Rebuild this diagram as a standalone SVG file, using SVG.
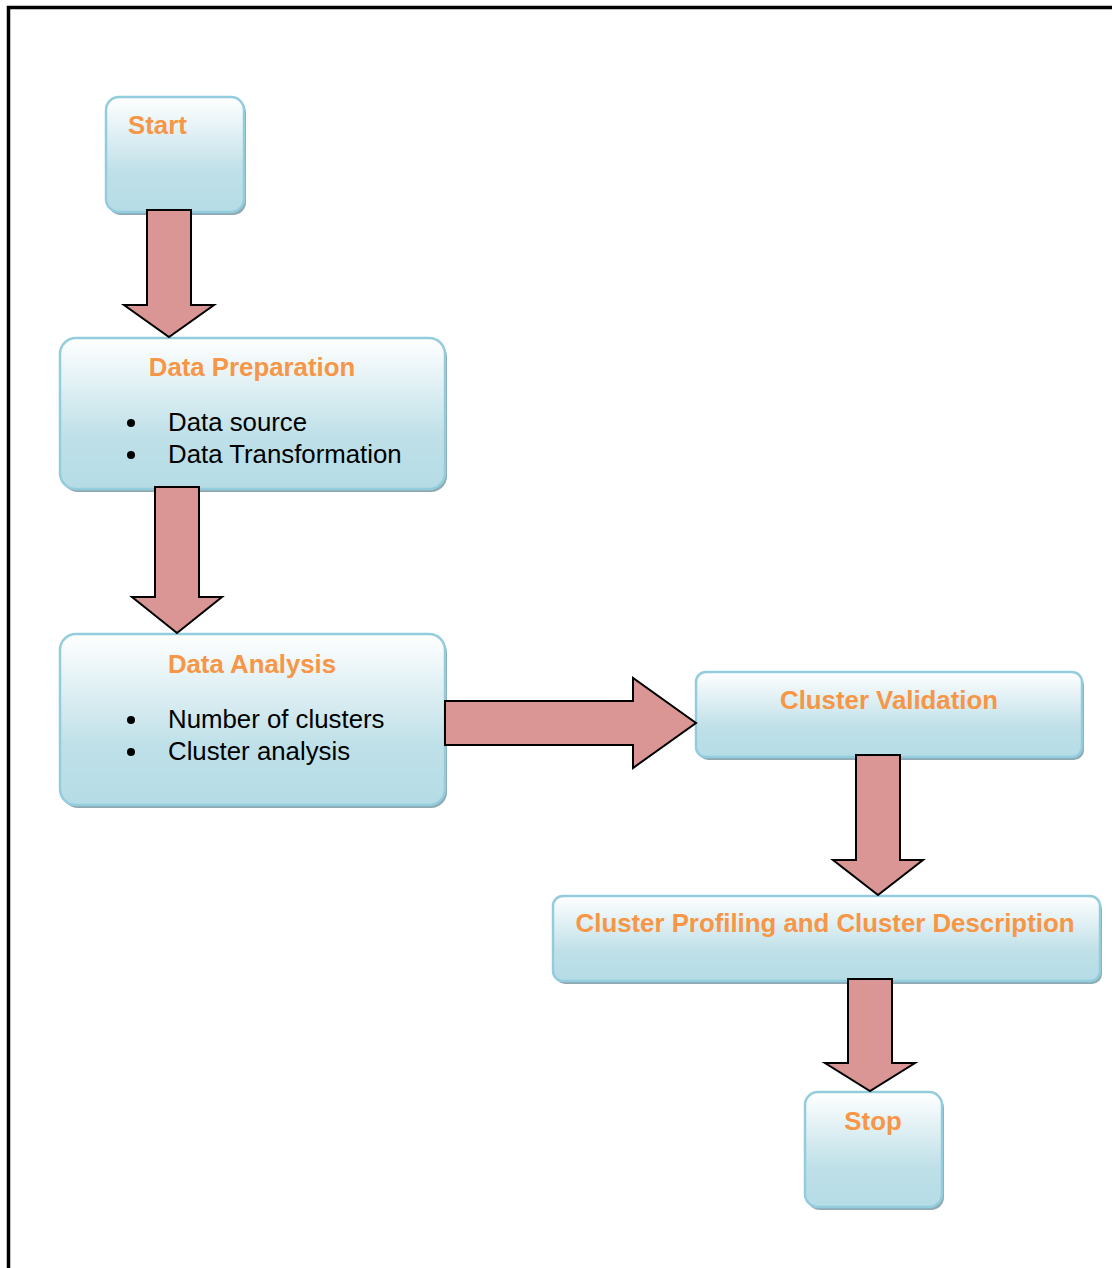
<svg xmlns="http://www.w3.org/2000/svg" width="1112" height="1268" viewBox="0 0 1112 1268">
<style>
.box{fill:url(#g);stroke:#93CDDD;stroke-width:2.5}
.shadow{fill:#8FA9B3}
.title{font-family:"Liberation Sans",Arial,sans-serif;font-weight:bold;font-size:25.8px;fill:#F79646}
.item{font-family:"Liberation Sans",Arial,sans-serif;font-size:25.8px;fill:#000}
.arrow{fill:#D99694;stroke:#000;stroke-width:2;stroke-linejoin:miter}
</style>
<defs>
<linearGradient id="g" x1="0" y1="0" x2="0" y2="1">
<stop offset="0" stop-color="#FFFFFF"/>
<stop offset="0.65" stop-color="#BFE0E8"/>
<stop offset="1" stop-color="#B5DCE6"/>
</linearGradient>
</defs>
<rect width="1112" height="1268" fill="#fff"/>
<path d="M8.5 1268 V7.5 H1112" fill="none" stroke="#000" stroke-width="3.5"/>
<g id="start">
<rect class="shadow" x="108" y="100" width="138" height="115" rx="13"/>
<rect class="box" x="106" y="97" width="138" height="115" rx="13"/>
<text class="title" x="128" y="134">Start</text>
</g>
<g id="prep">
<rect class="shadow" x="62" y="341" width="385" height="151" rx="16"/>
<rect class="box" x="60" y="338" width="385" height="151" rx="16"/>
<text class="title" x="252" y="376" text-anchor="middle">Data Preparation</text>
<circle cx="131" cy="423" r="4"/>
<text class="item" x="168" y="431">Data source</text>
<circle cx="131" cy="455" r="4"/>
<text class="item" x="168" y="463">Data Transformation</text>
</g>
<g id="analysis">
<rect class="shadow" x="62" y="637" width="385" height="171" rx="16"/>
<rect class="box" x="60" y="634" width="385" height="171" rx="16"/>
<text class="title" x="252" y="673" text-anchor="middle">Data Analysis</text>
<circle cx="131" cy="720" r="4"/>
<text class="item" x="168" y="728">Number of clusters</text>
<circle cx="131" cy="752" r="4"/>
<text class="item" x="168" y="760">Cluster analysis</text>
</g>
<g id="validation">
<rect class="shadow" x="698" y="675" width="386" height="85" rx="10"/>
<rect class="box" x="696" y="672" width="386" height="85" rx="10"/>
<text class="title" x="889" y="709" text-anchor="middle">Cluster Validation</text>
</g>
<g id="profiling">
<rect class="shadow" x="555" y="899" width="547" height="85" rx="10"/>
<rect class="box" x="553" y="896" width="547" height="85" rx="10"/>
<text class="title" x="825" y="932" text-anchor="middle">Cluster Profiling and Cluster Description</text>
</g>
<g id="stop">
<rect class="shadow" x="807" y="1095" width="137" height="115" rx="13"/>
<rect class="box" x="805" y="1092" width="137" height="115" rx="13"/>
<text class="title" x="873" y="1130" text-anchor="middle">Stop</text>
</g>
<g id="connectors">
<polygon class="arrow" points="147,210 191,210 191,305 214,305 169,337 124,305 147,305"/>
<polygon class="arrow" points="155,487 199,487 199,597 222,597 177,633 132,597 155,597"/>
<polygon class="arrow" points="445,701 633,701 633,678 696,723 633,768 633,745 445,745"/>
<polygon class="arrow" points="856,755 900,755 900,860 923,860 878,895 833,860 856,860"/>
<polygon class="arrow" points="848,979 892,979 892,1063 915,1063 870,1091 825,1063 848,1063"/>
</g>
</svg>
